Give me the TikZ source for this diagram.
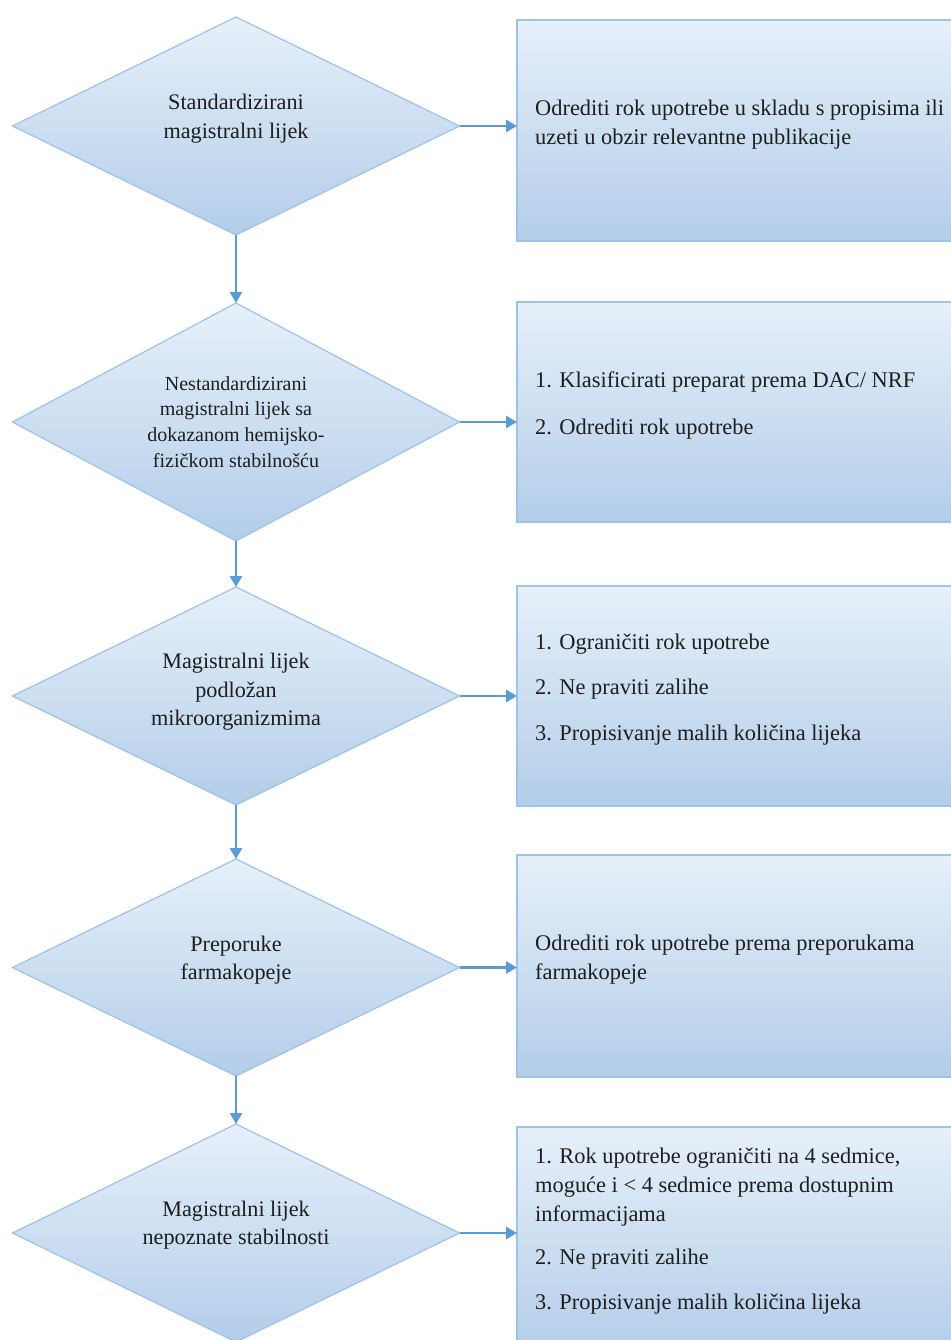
\documentclass[tikz,border=0pt]{standalone}
\usepackage{fontspec}
\setmainfont{Liberation Serif}
\usetikzlibrary{shapes.geometric,arrows.meta}
\definecolor{edge}{HTML}{9DC3E6}
\definecolor{arrowc}{HTML}{5B9BD5}
\definecolor{topc}{HTML}{E7F0FA}
\definecolor{botc}{HTML}{B3CDE9}
\definecolor{txt}{HTML}{1E1E1E}
\begin{document}
\begin{tikzpicture}[x=1pt,y=-1pt,
 decision/.style={diamond, draw=edge, line width=1.2pt, top color=topc, bottom color=botc, minimum width=447pt, inner sep=0pt, outer sep=0pt},
 actbox/.style={rectangle, draw=edge, line width=1.2pt, top color=topc, bottom color=botc, minimum width=450pt, inner sep=0pt, outer sep=0pt, anchor=north west},
 dtext/.style={align=center, text=txt, font=\fontsize{22.2}{28.5}\selectfont, inner sep=0pt},
 btext/.style={align=left, anchor=west, text=txt, font=\fontsize{22.4}{29}\selectfont, inner sep=0pt},
 flow/.style={draw=arrowc, line width=2.8pt, -{Triangle[length=11pt,width=12pt]}}]
\useasboundingbox (0,0) rectangle (950,1340);
\fill[white] (0,0) rectangle (950,1340);
% boxes
\node[actbox, minimum height=221pt] (b1) at (517,20) {};
\node[actbox, minimum height=220pt] (b2) at (517,302) {};
\node[actbox, minimum height=220pt] (b3) at (517,586) {};
\node[actbox, minimum height=222pt] (b4) at (517,855) {};
\node[actbox, minimum height=225pt] (b5) at (517,1127) {};
% diamonds
\node[decision, minimum height=218pt] (d1) at (236,126) {};
\node[decision, minimum height=238pt] (d2) at (236,422) {};
\node[decision, minimum height=218pt] (d3) at (236,696) {};
\node[decision, minimum height=217pt] (d4) at (236,967.5) {};
\node[decision, minimum height=218pt] (d5) at (236,1233) {};
% diamond texts
\node[dtext] (d1t) at (236,118.5) {Standardizirani\\magistralni lijek};
\node[dtext, font=\fontsize{20}{25.8}\selectfont] (d2t) at (236,422) {Nestandardizirani\\magistralni lijek sa\\dokazanom hemijsko-\\fizičkom stabilnošću};
\node[dtext] (d3t) at (236,692) {Magistralni lijek\\podložan\\mikroorganizmima};
\node[dtext] (d4t) at (236,960) {Preporuke\\farmakopeje};
\node[dtext] (d5t) at (236,1225) {Magistralni lijek\\nepoznate stabilnosti};
% box texts
\node[btext] (b1t) at (535,124.5) {Odrediti rok upotrebe u skladu s propisima ili\\uzeti u obzir relevantne publikacije};
\node[btext] (b2t) at (535,405.5) {1. Klasificirati preparat prema DAC/ NRF\\[18pt]2. Odrediti rok upotrebe};
\node[btext] (b3t) at (535,690) {1. Ograničiti rok upotrebe\\[16pt]2. Ne praviti zalihe\\[17pt]3. Propisivanje malih količina lijeka};
\node[btext] (b4t) at (535,960) {Odrediti rok upotrebe prema preporukama\\farmakopeje};
\node[btext] (b5t) at (535,1231) {1. Rok upotrebe ograničiti na 4 sedmice,\\moguće i < 4 sedmice prema dostupnim\\informacijama\\[14pt]2. Ne praviti zalihe\\[16pt]3. Propisivanje malih količina lijeka};
% connectors
\draw[flow] (d1.east) -- (d1.east -| b1.west);
\draw[flow] (d2.east) -- (d2.east -| b2.west);
\draw[flow] (d3.east) -- (d3.east -| b3.west);
\draw[flow] (d4.east) -- (d4.east -| b4.west);
\draw[flow] (d5.east) -- (d5.east -| b5.west);
\draw[flow] (d1.south) -- (d2.north);
\draw[flow] (d2.south) -- (d3.north);
\draw[flow] (d3.south) -- (d4.north);
\draw[flow] (d4.south) -- (d5.north);
\end{tikzpicture}
\end{document}
